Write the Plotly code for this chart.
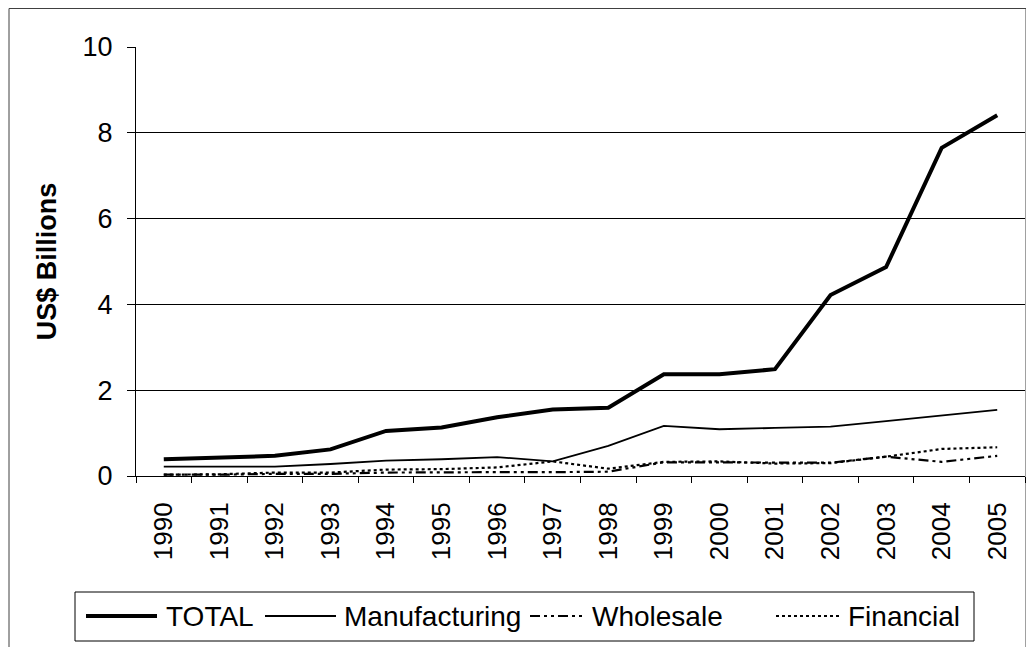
import plotly.graph_objects as go

# data (US$ billions)
years = [str(y) for y in range(1990, 2006)]
total = [0.39, 0.43, 0.47, 0.62, 1.05, 1.13, 1.37, 1.55, 1.59, 2.37, 2.37, 2.49, 4.22, 4.87, 7.65, 8.41]
manufacturing = [0.22, 0.22, 0.22, 0.28, 0.36, 0.39, 0.44, 0.34, 0.70, 1.17, 1.09, 1.12, 1.15, 1.28, 1.41, 1.54]
wholesale = [0.03, 0.03, 0.05, 0.05, 0.08, 0.09, 0.09, 0.09, 0.10, 0.32, 0.32, 0.31, 0.31, 0.45, 0.33, 0.47]
financial = [0.03, 0.04, 0.08, 0.08, 0.15, 0.16, 0.20, 0.34, 0.17, 0.33, 0.34, 0.29, 0.30, 0.45, 0.63, 0.67]

series_names = ["TOTAL", "Manufacturing", "Wholesale", "Financial"]
series_values = [total, manufacturing, wholesale, financial]
series_styles = [
    dict(color="#000000", width=4),
    dict(color="#000000", width=1.8),
    dict(color="#000000", width=2.2, dash="10px,4px,3px,4px,3px,4px"),
    dict(color="#000000", width=2.2, dash="3px,3px"),
]

FONT = "Liberation Sans, Arial, sans-serif"

fig = go.Figure()
for name, vals, style in zip(series_names, series_values, series_styles):
    fig.add_trace(go.Scatter(
        x=years, y=vals, name=name, mode="lines",
        line=style, showlegend=False,
        hovertemplate=name + " %{x}: %{y:.2f}<extra></extra>",
    ))

# page body has an 8px margin, so the figure sits 8px in from the window corner
OFF = 8
W, H = 1034 - OFF, 647 - OFF
# plot area in window pixels: x 136..1025, y 47..476
L, R, T, B = 136 - OFF, 1025 - OFF, 47 - OFF, 476 - OFF

def px(x):
    return (x - OFF - L) / (R - L)

def py(y):
    return (B - (y - OFF)) / (B - T)

shapes = [
    # outer chart border
    dict(type="rect", xref="paper", yref="paper",
         x0=px(9), x1=px(1026), y0=py(700), y1=py(8.5),
         line=dict(color="#404040", width=1), fillcolor="rgba(0,0,0,0)", layer="below"),
    # legend box
    dict(type="rect", xref="paper", yref="paper",
         x0=px(75), x1=px(974), y0=py(641), y1=py(592),
         line=dict(color="#000000", width=1), fillcolor="rgba(0,0,0,0)"),
]
annotations = []

# hand-made legend so the line samples are long like the original
legend_lines = [(86, 157), (265, 336), (530, 584), (776, 840)]
legend_text_x = [164, 342, 590, 846]
ly = 616
for name, style, (a, b), tx in zip(series_names, series_styles, legend_lines, legend_text_x):
    shapes.append(dict(type="line", xref="paper", yref="paper",
                       x0=px(a), x1=px(b), y0=py(ly), y1=py(ly), line=style))
    annotations.append(dict(text=name, xref="paper", yref="paper",
                            x=px(tx), y=py(ly), xanchor="left", yanchor="middle",
                            showarrow=False, font=dict(family=FONT, size=28, color="#000000")))

fig.update_layout(
    width=W, height=H,
    margin=dict(l=L, r=W - R, t=T, b=H - B),
    paper_bgcolor="white", plot_bgcolor="white",
    font=dict(family=FONT, size=27, color="#000000"),
    xaxis=dict(
        type="category", range=[-0.5, 15.5],
        tickson="boundaries", ticks="outside", ticklen=6, tickcolor="#000000",
        tickangle=-90, ticklabelstandoff=15,
        showline=True, linecolor="#000000", linewidth=1,
        showgrid=False, zeroline=False,
        tickfont=dict(size=26),
    ),
    yaxis=dict(
        range=[0, 10], dtick=2, tickformat="d",
        ticks="outside", ticklen=8, tickcolor="#000000",
        ticklabelstandoff=9,
        showline=True, linecolor="#000000", linewidth=1,
        showgrid=True, gridcolor="#000000", gridwidth=1,
        zeroline=False,
        tickfont=dict(size=27),
        title=dict(text="<b>US$ Billions</b>", font=dict(size=27), standoff=18),
    ),
    shapes=shapes,
    annotations=annotations,
)

fig.write_html("out.html")
